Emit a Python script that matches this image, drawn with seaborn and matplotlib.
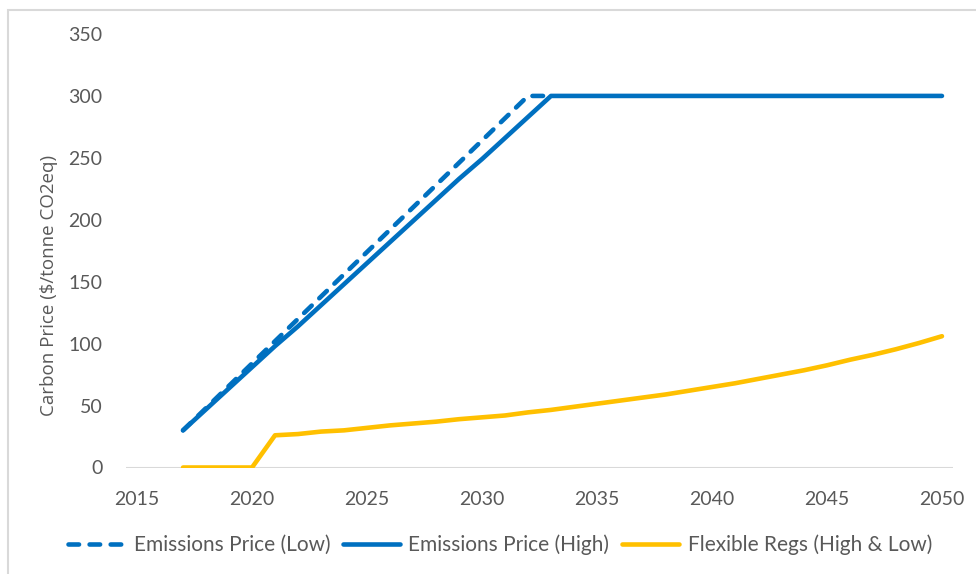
import matplotlib
matplotlib.use("Agg")
import matplotlib.pyplot as plt
from matplotlib.patches import Rectangle
import pandas as pd
import seaborn as sns

years = list(range(2017, 2051))

emissions_low = [30, 48, 66, 84, 102, 120, 138, 156, 174, 192, 210, 228, 246, 264, 282, 300,
                 300, 300, 300, 300, 300, 300, 300, 300, 300, 300, 300, 300, 300, 300, 300, 300,
                 300, 300]
emissions_high = [30, 47, 64, 81, 98, 114, 131, 148, 165, 182, 199, 216, 233, 249, 266, 283,
                  300, 300, 300, 300, 300, 300, 300, 300, 300, 300, 300, 300, 300, 300, 300, 300,
                  300, 300]
flexible_regs = [0, 0, 0, 0, 26, 27, 29, 30, 32, 34, 35.5, 37, 39, 40.5, 42, 44.5, 46.5, 49,
                 51.5, 54, 56.5, 59, 62, 65, 68, 71.5, 75, 78.5, 82.5, 87, 91, 95.5, 100.5, 106]

series_names = ["Emissions Price (Low)", "Emissions Price (High)", "Flexible Regs (High & Low)"]
x_ticks = [2015, 2020, 2025, 2030, 2035, 2040, 2045, 2050]
y_ticks = [0, 50, 100, 150, 200, 250, 300, 350]

BLUE = "#0070C0"
GOLD = "#FFC000"
TEXT = "#595959"
GRID = "#D9D9D9"

sns.set_theme(style="white")
plt.rcParams["font.family"] = ["Lato", "DejaVu Sans"]

df = pd.DataFrame({"year": years,
                   series_names[0]: emissions_low,
                   series_names[1]: emissions_high,
                   series_names[2]: flexible_regs})

W, H = 976, 574
fig = plt.figure(figsize=(W / 100, H / 100), dpi=100)
ax = fig.add_axes([126 / W, 1 - 467.5 / H, (953 - 126) / W, (467.5 - 34) / H])

ax.axhline(0, color=GRID, lw=1.5, zorder=1)

lw = 3.3
# the low path merges into the high path once both reach the cap,
# so its dashed part is only drawn up to that point
low_part = df[df["year"] <= 2033]
sns.lineplot(data=low_part, x="year", y=series_names[0], ax=ax, color=BLUE, lw=lw,
             label=series_names[0], zorder=3)
ax.lines[-1].set_dashes((2.3, 2.3))
ax.lines[-1].set_dash_capstyle("round")
sns.lineplot(data=df, x="year", y=series_names[1], ax=ax, color=BLUE, lw=lw + 0.3,
             label=series_names[1], zorder=4)
sns.lineplot(data=df, x="year", y=series_names[2], ax=ax, color=GOLD, lw=lw,
             label=series_names[2], zorder=4)
for ln in ax.lines[1:]:
    ln.set_solid_capstyle("round")
    ln.set_solid_joinstyle("round")

ax.set_xlim(2014.52, 2050.48)
ax.set_ylim(0, 350)
ax.set_xticks(x_ticks)
ax.set_yticks(y_ticks)
ax.tick_params(axis="both", length=0, labelsize=14, labelcolor=TEXT)
ax.tick_params(axis="y", pad=17)
ax.tick_params(axis="x", pad=17)
for s in ax.spines.values():
    s.set_visible(False)
ax.set_xlabel("")
ax.set_ylabel("")

fig.text(49 / W, 1 - 285 / H, "Carbon Price ($/tonne CO2eq)", rotation=90,
         ha="center", va="center", color=TEXT, fontsize=13.5,
         family=["Open Sans", "DejaVu Sans"])

handles, labels = ax.get_legend_handles_labels()
for h in handles[1:]:
    h.set_linewidth(lw)
ax.get_legend().remove()
leg = fig.legend(handles, labels, loc="center", bbox_to_anchor=(500 / W, 1 - 545 / H),
                 ncol=3, frameon=False, fontsize=15, handlelength=2.75,
                 handletextpad=0.4, columnspacing=0.6, labelcolor=TEXT)

# chart frame
fig.patches.append(Rectangle((8 / W, -0.2), 1.2, (574 - 10) / H + 0.2,
                             transform=fig.transFigure, fill=False,
                             edgecolor=GRID, lw=1.5))

fig.savefig("out.png", dpi=100)
